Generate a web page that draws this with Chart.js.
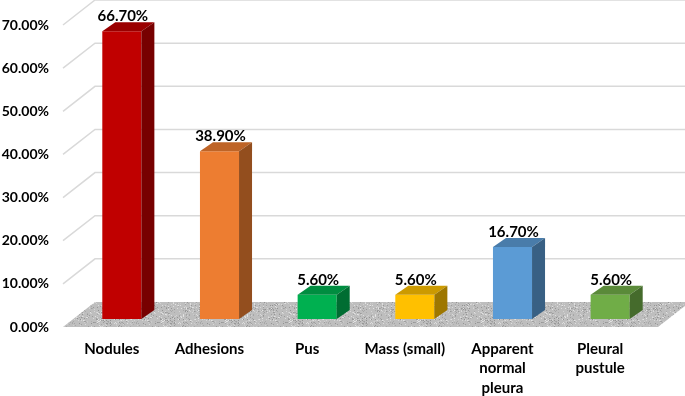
<!DOCTYPE html>
<html>
<head>
<meta charset="utf-8">
<script src="https://cdn.jsdelivr.net/npm/chart.js@4.4.0/dist/chart.umd.min.js"></script>
<style>
  html, body { margin: 0; padding: 0; background: #fff; }
  #wrap { width: 685px; height: 396px; }
</style>
</head>
<body>
<div id="wrap"><canvas id="chart"></canvas></div>
<script>
const categories = ['Nodules', 'Adhesions', 'Pus', 'Mass (small)', ['Apparent', 'normal', 'pleura'], ['Pleural', 'pustule']]
const percentages = [66.7, 38.9, 5.6, 5.6, 16.7, 5.6]
const yTicks = [0, 10, 20, 30, 40, 50, 60, 70]
const barColors = ['#C00000', '#ED7D31', '#00B050', '#FFC000', '#5B9BD5', '#70AD47']

// 3d look: back wall offset, bar position inside the floor, bar depth
const wallDepth = { dx: 32, dy: 25 }
const barShift = { dx: 10, dy: 8 }
const barDepth = { dx: 13, dy: 9 }

const FONT = 'Lato, "Liberation Sans", sans-serif'

function shade(hex, f) {
    const n = parseInt(hex.slice(1), 16)
    const r = Math.round(((n >> 16) & 255) * f)
    const g = Math.round(((n >> 8) & 255) * f)
    const b = Math.round((n & 255) * f)
    return `rgb(${r},${g},${b})`
}

function pct(v) {
    return v.toFixed(2) + '%'
}

// speckled grey floor texture (fixed seed so it is the same every time)
function floorPattern(ctx) {
    const c = document.createElement('canvas')
    c.width = 64; c.height = 64
    const p = c.getContext('2d')
    p.fillStyle = '#bebebe'
    p.fillRect(0, 0, 64, 64)
    let seed = 12345
    const rnd = () => { seed = (seed * 1103515245 + 12345) % 2147483648; return seed / 2147483648 }
    for (let i = 0; i < 1000; i++) {
        const g = rnd() < 0.5 ? 145 + Math.floor(rnd() * 30) : 200 + Math.floor(rnd() * 30)
        p.fillStyle = `rgb(${g},${g},${g})`
        p.fillRect(Math.floor(rnd() * 64), Math.floor(rnd() * 64), 1, 1)
    }
    return ctx.createPattern(c, 'repeat')
}

const threeD = {
    id: 'threeD',
    beforeDatasetsDraw(chart) {
        const { ctx, chartArea } = chart
        const y = chart.scales.y
        ctx.save()
        // back wall gridlines
        ctx.strokeStyle = '#d9d9d9'
        ctx.lineWidth = 1.5
        yTicks.forEach(t => {
            if (t === 0) return
            const py = y.getPixelForValue(t)
            ctx.beginPath()
            ctx.moveTo(chartArea.left, py)
            ctx.lineTo(chartArea.left + wallDepth.dx, py - wallDepth.dy)
            ctx.lineTo(chart.width, py - wallDepth.dy)
            ctx.stroke()
        })
        // floor
        const y0 = y.getPixelForValue(0)
        ctx.fillStyle = floorPattern(ctx)
        ctx.beginPath()
        ctx.moveTo(chartArea.left, y0)
        ctx.lineTo(chartArea.right + 9, y0)
        ctx.lineTo(chartArea.right + 9 + wallDepth.dx, y0 - wallDepth.dy)
        ctx.lineTo(chartArea.left + wallDepth.dx, y0 - wallDepth.dy)
        ctx.closePath()
        ctx.fill()
        ctx.restore()
    },
    beforeDatasetDraw(chart) {
        chart.ctx.save()
        chart.ctx.translate(barShift.dx, -barShift.dy)
    },
    afterDatasetDraw(chart, args) {
        const ctx = chart.ctx
        args.meta.data.forEach((bar, i) => {
            const { x, y, base, width } = bar.getProps(['x', 'y', 'base', 'width'], true)
            const l = x - width / 2
            const r = x + width / 2
            // top face
            ctx.fillStyle = shade(barColors[i], 0.8)
            ctx.beginPath()
            ctx.moveTo(l, y)
            ctx.lineTo(r, y)
            ctx.lineTo(r + barDepth.dx, y - barDepth.dy)
            ctx.lineTo(l + barDepth.dx, y - barDepth.dy)
            ctx.closePath()
            ctx.fill()
            // side face
            ctx.fillStyle = shade(barColors[i], 0.62)
            ctx.beginPath()
            ctx.moveTo(r, y)
            ctx.lineTo(r + barDepth.dx, y - barDepth.dy)
            ctx.lineTo(r + barDepth.dx, base - barDepth.dy)
            ctx.lineTo(r, base)
            ctx.closePath()
            ctx.fill()
            // value label
            ctx.fillStyle = '#000'
            ctx.font = `bold 15px ${FONT}`
            ctx.textAlign = 'center'
            ctx.textBaseline = 'alphabetic'
            ctx.fillText(pct(percentages[i]), x + 1, y - barDepth.dy - 1)
        })
        ctx.restore()
    }
}

new Chart(document.getElementById('chart'), {
    type: 'bar',
    data: {
        labels: categories,
        datasets: [{
            data: percentages,
            backgroundColor: barColors,
            barPercentage: 0.4,
            categoryPercentage: 1,
            clip: false
        }]
    },
    options: {
        responsive: true,
        maintainAspectRatio: false,
        animation: false,
        layout: { padding: { top: 25, right: 36, left: 0, bottom: 0 } },
        plugins: {
            legend: { display: false },
            tooltip: { enabled: false }
        },
        scales: {
            x: {
                grid: { display: false, drawTicks: false },
                border: { display: false },
                ticks: {
                    padding: 12,
                    color: '#000',
                    maxRotation: 0,
                    autoSkip: false,
                    font: { family: FONT, weight: 'bold', size: 15, lineHeight: 1.3 }
                },
                afterFit(s) { s.height = 69 }
            },
            y: {
                min: 0,
                max: 70,
                grid: { display: false, drawTicks: false },
                border: { display: false },
                afterBuildTicks(s) { s.ticks = yTicks.map(v => ({ value: v })) },
                ticks: {
                    padding: 14,
                    color: '#000',
                    font: { family: FONT, weight: 'bold', size: 14 },
                    callback: v => pct(v)
                },
                afterFit(s) { s.width = 63 }
            }
        }
    },
    plugins: [threeD]
})
</script>
</body>
</html>
